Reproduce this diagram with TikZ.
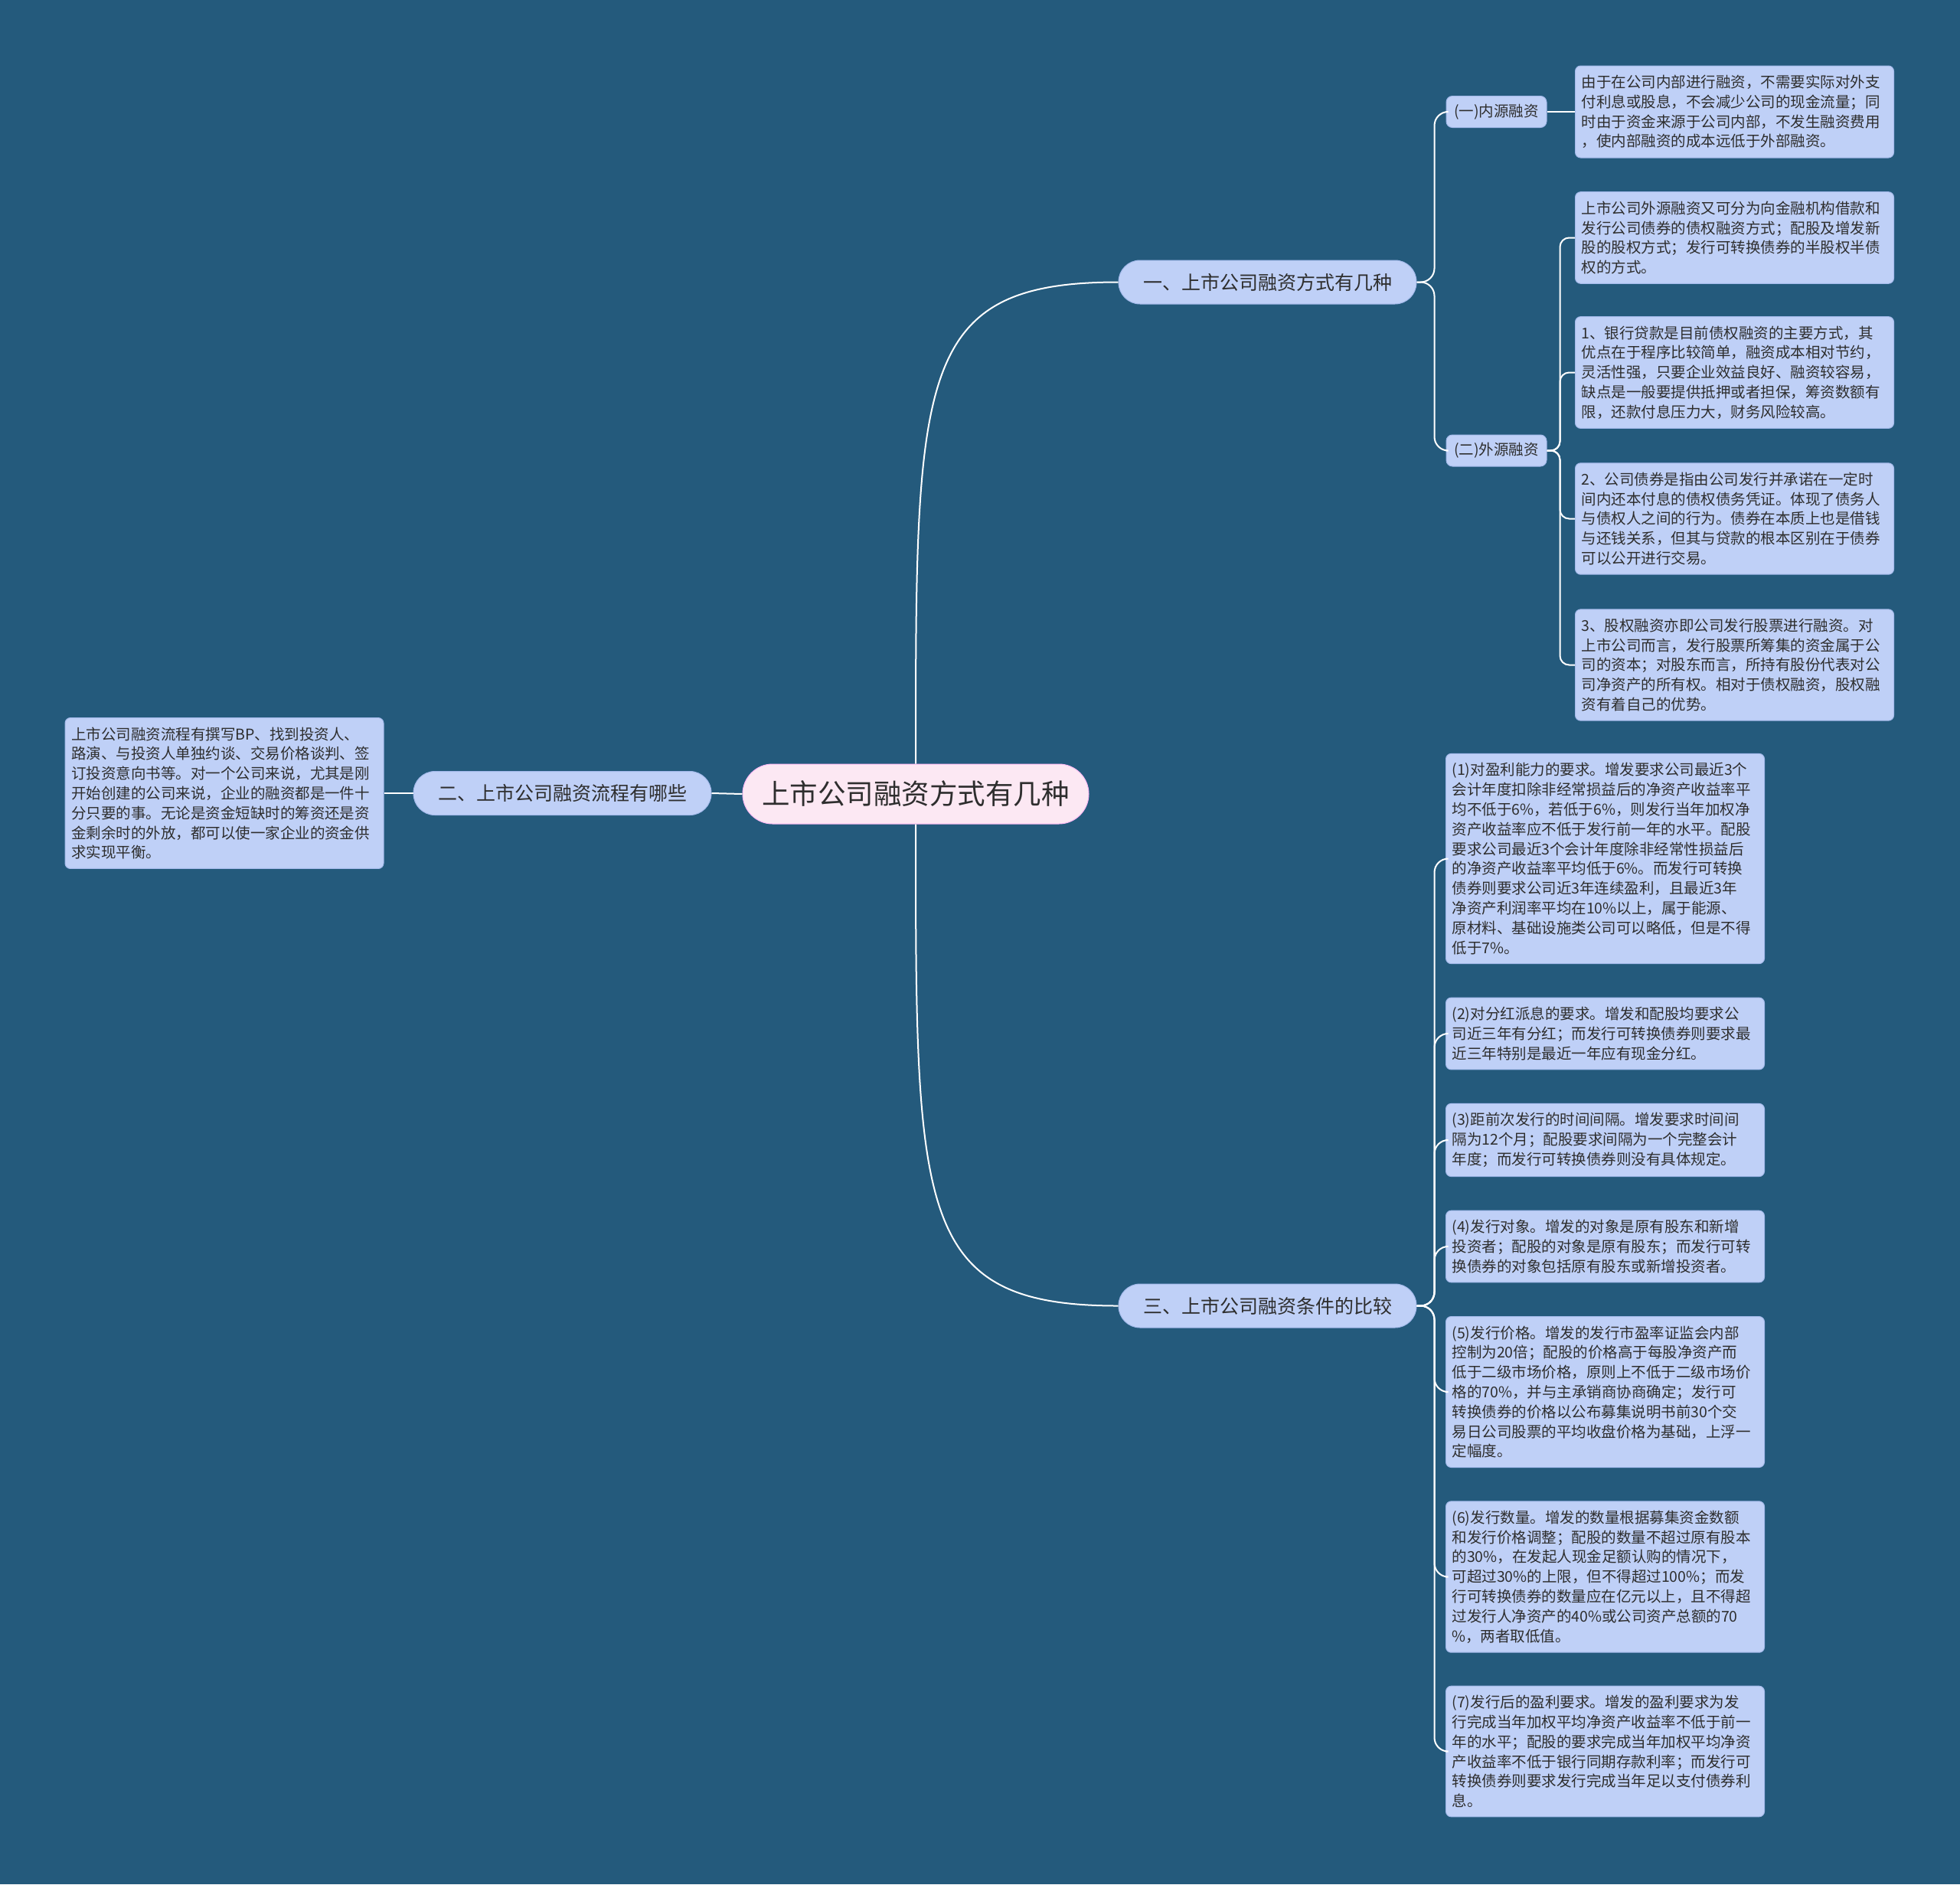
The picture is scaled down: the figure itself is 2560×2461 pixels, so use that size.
\documentclass[tikz,border=0pt]{standalone}
\usepackage{fontspec}
\setmainfont{Noto Sans CJK SC}
\usepackage{tikz}
\usetikzlibrary{positioning,calc}
\definecolor{mapbg}{HTML}{245A7C}
\definecolor{leafblue}{HTML}{BFD0F7}
\definecolor{leafedge}{HTML}{A3B9EA}
\definecolor{rootpink}{HTML}{FCE8F3}
\definecolor{inkgrey}{HTML}{2E2E2E}

\begin{document}
\begin{tikzpicture}[x=1pt,y=-1pt,
    link/.style={draw=white,line width=2pt},
    leaf/.style={fill=leafblue,draw=leafedge,line width=1pt,rounded corners=7pt,text=inkgrey,
        align=left,text width=400pt,inner xsep=8pt,inner ysep=12pt,
        font=\fontsize{19.5pt}{25.8pt}\selectfont},
    topic/.style={fill=leafblue,draw=leafedge,line width=1pt,rounded corners=28pt,text=inkgrey,
        minimum width=389pt,minimum height=57pt,font=\fontsize{25pt}{30pt}\selectfont},
    subtopic/.style={fill=leafblue,draw=leafedge,line width=1pt,rounded corners=8pt,text=inkgrey,
        minimum width=131pt,minimum height=41pt,inner xsep=4pt,font=\fontsize{19.5pt}{24pt}\selectfont},
    rootnode/.style={fill=rootpink,draw=rootpink!80!magenta,line width=1pt,rounded corners=39pt,text=inkgrey,
        minimum width=452pt,minimum height=78pt,font=\fontsize{36.5pt}{40pt}\selectfont}
]
\path[use as bounding box,fill=mapbg] (0,0) rectangle (2560,2461);

% centre and first level
\node[rootnode] (root) at (1196,1037) {上市公司融资方式有几种};
\node[topic] (b1) at (1655.5,368.5) {一、上市公司融资方式有几种};
\node[topic] (b2) at (734.5,1036) {二、上市公司融资流程有哪些};
\node[topic] (b3) at (1655.5,1705.5) {三、上市公司融资条件的比较};

% branch one
\node[subtopic] (s1) at (1954.5,146) {(一)内源融资};
\node[subtopic] (s2) at (1954.5,588.5) {(二)外源融资};
\node[leaf] (a1) at (2265.5,146) {由于在公司内部进行融资，不需要实际对外支\\付利息或股息，不会减少公司的现金流量；同\\时由于资金来源于公司内部，不发生融资费用\\，使内部融资的成本远低于外部融资。};
\node[leaf] (a2) at (2265.5,310.5) {上市公司外源融资又可分为向金融机构借款和\\发行公司债券的债权融资方式；配股及增发新\\股的股权方式；发行可转换债券的半股权半债\\权的方式。};
\node[leaf] (a3) at (2265.5,486.5) {1、银行贷款是目前债权融资的主要方式，其\\优点在于程序比较简单，融资成本相对节约，\\灵活性强，只要企业效益良好、融资较容易，\\缺点是一般要提供抵押或者担保，筹资数额有\\限，还款付息压力大，财务风险较高。};
\node[leaf] (a4) at (2265.5,677.5) {2、公司债券是指由公司发行并承诺在一定时\\间内还本付息的债权债务凭证。体现了债务人\\与债权人之间的行为。债券在本质上也是借钱\\与还钱关系，但其与贷款的根本区别在于债券\\可以公开进行交易。};
\node[leaf] (a5) at (2265.5,868.5) {3、股权融资亦即公司发行股票进行融资。对\\上市公司而言，发行股票所筹集的资金属于公\\司的资本；对股东而言，所持有股份代表对公\\司净资产的所有权。相对于债权融资，股权融\\资有着自己的优势。};

% branch two
\node[leaf] (l1) at (293,1036) {上市公司融资流程有撰写BP、找到投资人、\\路演、与投资人单独约谈、交易价格谈判、签\\订投资意向书等。对一个公司来说，尤其是刚\\开始创建的公司来说，企业的融资都是一件十\\分只要的事。无论是资金短缺时的筹资还是资\\金剩余时的外放，都可以使一家企业的资金供\\求实现平衡。};

% branch three
\node[leaf] (c1) at (2096.5,1121.5) {(1)对盈利能力的要求。增发要求公司最近3个\\会计年度扣除非经常损益后的净资产收益率平\\均不低于6\%，若低于6\%，则发行当年加权净\\资产收益率应不低于发行前一年的水平。配股\\要求公司最近3个会计年度除非经常性损益后\\的净资产收益率平均低于6\%。而发行可转换\\债券则要求公司近3年连续盈利，且最近3年\\净资产利润率平均在10\%以上，属于能源、\\原材料、基础设施类公司可以略低，但是不得\\低于7\%。};
\node[leaf] (c2) at (2096.5,1350) {(2)对分红派息的要求。增发和配股均要求公\\司近三年有分红；而发行可转换债券则要求最\\近三年特别是最近一年应有现金分红。};
\node[leaf] (c3) at (2096.5,1489) {(3)距前次发行的时间间隔。增发要求时间间\\隔为12个月；配股要求间隔为一个完整会计\\年度；而发行可转换债券则没有具体规定。};
\node[leaf] (c4) at (2096.5,1628) {(4)发行对象。增发的对象是原有股东和新增\\投资者；配股的对象是原有股东；而发行可转\\换债券的对象包括原有股东或新增投资者。};
\node[leaf] (c5) at (2096.5,1818) {(5)发行价格。增发的发行市盈率证监会内部\\控制为20倍；配股的价格高于每股净资产而\\低于二级市场价格，原则上不低于二级市场价\\格的70\%，并与主承销商协商确定；发行可\\转换债券的价格以公布募集说明书前30个交\\易日公司股票的平均收盘价格为基础，上浮一\\定幅度。};
\node[leaf] (c6) at (2096.5,2059.5) {(6)发行数量。增发的数量根据募集资金数额\\和发行价格调整；配股的数量不超过原有股本\\的30\%，在发起人现金足额认购的情况下，\\可超过30\%的上限，但不得超过100\%；而发\\行可转换债券的数量应在亿元以上，且不得超\\过发行人净资产的40\%或公司资产总额的70\\\%，两者取低值。};
\node[leaf] (c7) at (2096.5,2287.5) {(7)发行后的盈利要求。增发的盈利要求为发\\行完成当年加权平均净资产收益率不低于前一\\年的水平；配股的要求完成当年加权平均净资\\产收益率不低于银行同期存款利率；而发行可\\转换债券则要求发行完成当年足以支付债券利\\息。};

% connectors
\draw[link] (root.north) .. controls ($(root.north)!0.81!(root.north |- b1.west)$) and (root.north |- b1.west) .. (b1.west);
\draw[link] (root.south) .. controls ($(root.south)!0.81!(root.south |- b3.west)$) and (root.south |- b3.west) .. (b3.west);
\draw[link] (root.west) -- (b2.east);
\draw[link] (b2.west) -- (l1.east);
\draw[link] (s1.east) -- (a1.west);

\coordinate (j1) at ([xshift=23pt]b1.east);
\coordinate (j2) at ([xshift=17pt]s2.east);
\coordinate (j3) at ([xshift=23pt]b3.east);
\foreach \sub in {s1,s2}
    \draw[link,rounded corners=18pt] (b1.east) -- (j1) |- (\sub.west);
\foreach \leaf in {a2,a3,a4,a5}
    \draw[link,rounded corners=12pt] (s2.east) -- (j2) |- (\leaf.west);
\foreach \leaf in {c1,c2,c3,c4,c5,c6,c7}
    \draw[link,rounded corners=18pt] (b3.east) -- (j3) |- (\leaf.west);
\end{tikzpicture}
\end{document}
